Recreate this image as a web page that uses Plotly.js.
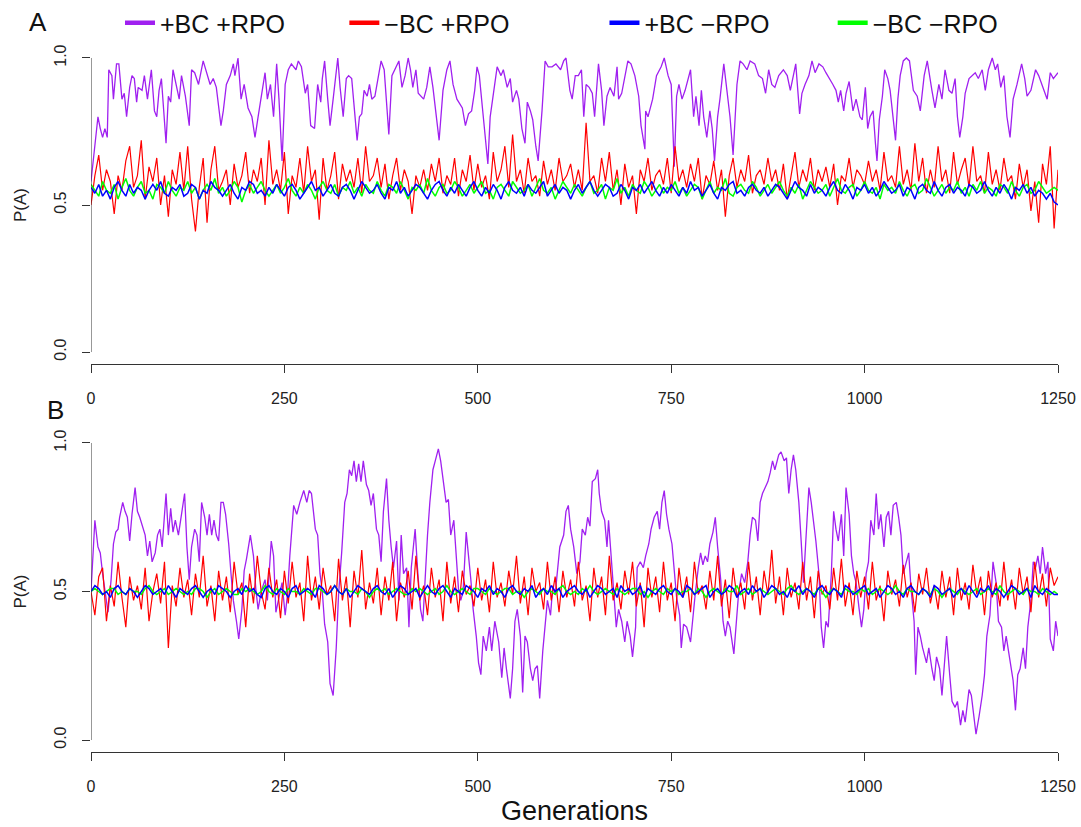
<!DOCTYPE html>
<html>
<head>
<meta charset="utf-8">
<script src="https://cdn.plot.ly/plotly-3.0.1.min.js"></script>
<style>html,body{margin:0;padding:0;background:#fff}#chart{width:1081px;height:827px}</style>
</head>
<body>
<div id="chart"></div>
<script>
// ---------- data ----------
var seriesNames = ['+BC +RPO', '\u2212BC +RPO', '+BC \u2212RPO', '\u2212BC \u2212RPO'];
var seriesColors = ['#A020F0', '#FF0000', '#0000FF', '#00FF00'];
var xTickVals = [0, 250, 500, 750, 1000, 1250];
var yTickVals = [0, 0.5, 1];
var yTickText = ['0.0', '0.5', '1.0'];

// Panel A, +BC +RPO (generation, P(A))
var genPurpleA = [0,2,9,12,15,18,21,23,27,29,33,36,40,43,46,50,53,56,59,61,66,69,73,78,82,85,88,91,97,100,103,106,111,114,117,122,127,130,134,139,145,150,154,158,162,168,171,175,180,184,186,190,194,198,203,208,212,216,221,225,228,232,236,240,243,247,251,255,259,265,268,272,277,280,284,289,293,297,299,302,306,309,313,319,322,326,330,333,337,340,344,347,350,353,357,360,363,367,375,379,385,389,393,398,402,406,410,413,416,420,423,430,434,438,442,446,450,455,460,464,468,473,480,484,488,492,496,499,502,506,511,513,516,520,525,530,533,538,542,545,550,553,557,561,564,568,571,575,578,583,587,591,596,601,607,611,614,619,622,626,630,634,637,640,644,648,651,656,660,663,667,671,676,680,682,686,690,694,698,703,708,711,716,717,720,726,731,737,741,746,750,754,757,760,764,768,775,779,782,786,789,792,796,800,803,806,810,813,818,822,826,830,835,839,843,848,852,858,863,868,872,876,880,884,889,895,900,904,908,911,916,919,923,928,932,936,941,946,950,955,959,963,966,969,973,976,980,985,989,994,997,1001,1004,1007,1011,1014,1016,1019,1023,1026,1030,1033,1037,1040,1043,1046,1050,1054,1058,1063,1068,1072,1077,1081,1087,1091,1096,1100,1104,1109,1113,1117,1120,1123,1127,1130,1135,1139,1143,1147,1152,1156,1160,1165,1169,1172,1176,1180,1184,1188,1192,1197,1203,1207,1210,1215,1221,1225,1229,1236,1240,1244,1250];
var pPurpleA = [0.58,0.63,0.80,0.76,0.73,0.76,0.73,0.96,0.94,0.86,0.98,0.98,0.86,0.88,0.80,0.90,0.94,0.93,0.85,0.90,0.89,0.94,0.86,0.96,0.82,0.80,0.89,0.93,0.71,0.87,0.85,0.96,0.89,0.86,0.94,0.87,0.77,0.96,0.95,0.91,0.99,0.94,0.91,0.93,0.90,0.77,0.82,0.91,0.94,0.98,0.94,1.00,0.86,0.91,0.83,0.80,0.73,0.80,0.89,0.95,0.86,0.91,0.80,0.98,0.86,0.65,0.91,0.96,0.98,0.96,0.99,0.97,0.88,0.91,0.77,0.76,0.91,0.85,0.93,0.99,0.86,0.77,0.86,1.00,0.90,0.80,0.93,0.94,0.93,0.83,0.72,0.80,0.81,0.89,0.87,0.91,0.86,0.87,0.99,0.96,0.74,0.94,0.96,0.99,0.90,0.94,1.00,0.96,0.90,0.96,0.88,0.86,0.90,0.97,0.90,0.81,0.72,0.89,0.96,0.99,0.91,0.86,0.83,0.77,0.81,0.82,0.89,0.97,0.94,0.83,0.69,0.64,0.80,0.88,0.97,0.94,0.96,0.90,0.93,0.85,0.89,0.86,0.76,0.71,0.85,0.82,0.79,0.70,0.65,0.82,0.99,0.97,0.97,0.98,0.96,0.99,1.00,0.89,0.86,0.94,0.94,0.96,0.80,0.91,0.90,0.88,0.80,0.98,0.89,0.77,0.87,0.90,0.87,0.97,0.86,0.88,0.94,0.99,0.98,0.94,0.87,0.77,0.69,0.82,0.80,0.86,0.94,0.97,1.00,0.94,0.91,0.63,0.87,0.91,0.86,0.89,0.96,0.80,0.87,0.77,0.89,0.80,0.73,0.82,0.76,0.65,0.80,0.86,0.98,0.89,0.80,0.67,0.91,0.99,0.98,0.96,0.99,0.98,0.94,0.93,0.88,0.96,0.91,0.90,0.94,0.96,0.94,0.89,0.94,0.98,0.81,0.88,0.91,0.94,0.99,0.95,0.98,0.97,0.95,0.93,0.91,0.89,0.85,0.89,0.82,0.88,0.92,0.82,0.86,0.80,0.79,0.90,0.76,0.80,0.82,0.71,0.65,0.79,0.87,0.96,0.93,0.89,0.80,0.72,0.86,0.94,0.99,1.00,0.99,0.89,0.87,0.82,0.94,0.99,0.89,0.83,0.91,0.86,0.96,0.89,0.88,0.93,0.80,0.73,0.80,0.88,0.93,0.94,0.95,0.93,0.96,0.89,0.96,1.00,0.96,0.98,0.90,0.94,0.80,0.73,0.86,0.91,0.98,0.93,0.87,0.89,0.96,0.94,0.91,0.86,0.95,0.93,0.95];

// Panel A, other series, one value every 5 generations from 0 to 1250
var pRedA = [
0.50,0.60,0.67,0.55,0.62,0.58,0.47,0.60,0.55,0.65,0.70,0.56,0.60,0.72,0.52,0.63,0.58,0.66,0.50,0.60,0.46,0.62,0.57,0.68,0.55,
0.70,0.52,0.41,0.56,0.66,0.44,0.62,0.70,0.55,0.58,0.62,0.50,0.64,0.56,0.60,0.68,0.54,0.62,0.58,0.66,0.50,0.72,0.57,0.62,0.55,
0.68,0.47,0.60,0.56,0.66,0.54,0.70,0.58,0.62,0.45,0.66,0.55,0.60,0.68,0.52,0.64,0.58,0.62,0.56,0.66,0.54,0.70,0.58,0.60,0.66,
0.56,0.64,0.52,0.60,0.66,0.55,0.62,0.58,0.47,0.60,0.56,0.62,0.55,0.64,0.58,0.66,0.54,0.60,0.57,0.66,0.53,0.62,0.58,0.67,0.55,
0.64,0.56,0.60,0.52,0.68,0.58,0.62,0.70,0.56,0.74,0.58,0.62,0.54,0.66,0.58,0.60,0.53,0.65,0.57,0.62,0.55,0.66,0.58,0.60,0.64,
0.56,0.62,0.55,0.78,0.58,0.60,0.54,0.66,0.58,0.68,0.55,0.62,0.50,0.64,0.56,0.60,0.47,0.62,0.58,0.66,0.55,0.60,0.62,0.57,0.66,
0.54,0.70,0.58,0.62,0.56,0.64,0.58,0.66,0.52,0.60,0.57,0.65,0.55,0.62,0.46,0.60,0.66,0.56,0.62,0.58,0.67,0.54,0.60,0.62,0.57,
0.66,0.58,0.62,0.55,0.64,0.52,0.60,0.68,0.56,0.62,0.58,0.66,0.55,0.62,0.58,0.63,0.56,0.64,0.50,0.60,0.58,0.66,0.56,0.62,0.60,
0.57,0.65,0.58,0.62,0.55,0.68,0.58,0.60,0.56,0.70,0.57,0.62,0.55,0.71,0.58,0.66,0.54,0.62,0.56,0.70,0.58,0.62,0.54,0.68,0.57,
0.62,0.66,0.56,0.70,0.58,0.60,0.54,0.68,0.57,0.62,0.55,0.66,0.58,0.60,0.52,0.64,0.56,0.62,0.48,0.58,0.44,0.64,0.57,0.70,0.42,
0.62];
var pBlueA = [
0.56,0.54,0.57,0.53,0.55,0.52,0.56,0.58,0.55,0.53,0.57,0.54,0.56,0.55,0.52,0.55,0.57,0.55,0.58,0.54,0.53,0.56,0.55,0.57,0.53,
0.54,0.57,0.56,0.52,0.55,0.54,0.58,0.56,0.55,0.53,0.55,0.57,0.54,0.52,0.56,0.55,0.58,0.57,0.54,0.55,0.53,0.56,0.54,0.57,0.55,
0.53,0.56,0.57,0.55,0.52,0.54,0.56,0.58,0.55,0.56,0.53,0.55,0.57,0.54,0.53,0.56,0.57,0.55,0.52,0.55,0.58,0.56,0.54,0.55,0.57,
0.54,0.52,0.56,0.55,0.58,0.54,0.56,0.53,0.55,0.57,0.56,0.54,0.52,0.55,0.57,0.58,0.55,0.53,0.56,0.54,0.57,0.55,0.53,0.56,0.58,
0.55,0.53,0.56,0.54,0.57,0.55,0.52,0.56,0.58,0.55,0.54,0.56,0.53,0.57,0.55,0.54,0.56,0.58,0.53,0.55,0.57,0.54,0.56,0.55,0.52,
0.55,0.57,0.54,0.56,0.58,0.55,0.53,0.55,0.57,0.56,0.53,0.54,0.57,0.55,0.52,0.56,0.55,0.57,0.54,0.56,0.58,0.55,0.53,0.56,0.54,
0.57,0.55,0.53,0.56,0.54,0.58,0.55,0.56,0.53,0.55,0.57,0.54,0.52,0.56,0.55,0.57,0.58,0.54,0.55,0.53,0.56,0.57,0.55,0.54,0.56,
0.53,0.55,0.57,0.56,0.54,0.52,0.55,0.58,0.56,0.55,0.53,0.57,0.54,0.56,0.55,0.53,0.56,0.58,0.55,0.54,0.57,0.55,0.52,0.56,0.55,
0.57,0.54,0.56,0.53,0.55,0.58,0.56,0.54,0.55,0.57,0.53,0.56,0.55,0.52,0.56,0.57,0.55,0.54,0.58,0.55,0.53,0.56,0.57,0.54,0.56,
0.55,0.53,0.57,0.56,0.54,0.55,0.58,0.55,0.53,0.56,0.54,0.57,0.55,0.52,0.56,0.55,0.57,0.54,0.56,0.53,0.55,0.54,0.52,0.54,0.51,
0.50];
var pGreenA = [
0.57,0.55,0.53,0.58,0.55,0.54,0.57,0.52,0.56,0.59,0.55,0.53,0.56,0.58,0.54,0.55,0.52,0.57,0.56,0.54,0.58,0.55,0.53,0.56,0.55,
0.58,0.54,0.56,0.52,0.55,0.57,0.55,0.59,0.54,0.56,0.53,0.55,0.58,0.56,0.51,0.55,0.57,0.54,0.56,0.58,0.55,0.53,0.55,0.57,0.54,
0.56,0.59,0.55,0.53,0.56,0.54,0.57,0.55,0.52,0.56,0.58,0.55,0.54,0.57,0.53,0.56,0.55,0.58,0.54,0.56,0.53,0.57,0.55,0.54,0.58,
0.55,0.53,0.57,0.56,0.54,0.58,0.55,0.52,0.56,0.55,0.57,0.54,0.59,0.55,0.53,0.56,0.57,0.54,0.55,0.58,0.56,0.53,0.55,0.57,0.54,
0.56,0.58,0.54,0.55,0.52,0.56,0.57,0.55,0.53,0.58,0.56,0.54,0.55,0.57,0.53,0.56,0.59,0.55,0.54,0.56,0.52,0.55,0.58,0.56,0.54,
0.57,0.55,0.53,0.56,0.58,0.54,0.55,0.57,0.52,0.56,0.55,0.59,0.54,0.56,0.53,0.57,0.55,0.54,0.58,0.56,0.53,0.55,0.57,0.54,0.56,
0.55,0.58,0.54,0.56,0.53,0.55,0.57,0.56,0.52,0.55,0.58,0.54,0.56,0.55,0.59,0.54,0.53,0.56,0.57,0.55,0.54,0.58,0.56,0.53,0.55,
0.57,0.54,0.56,0.58,0.55,0.53,0.56,0.54,0.57,0.52,0.55,0.58,0.56,0.54,0.55,0.57,0.53,0.56,0.59,0.55,0.54,0.56,0.57,0.53,0.55,
0.58,0.55,0.54,0.56,0.52,0.57,0.55,0.56,0.54,0.58,0.55,0.53,0.56,0.57,0.54,0.55,0.59,0.56,0.53,0.55,0.57,0.54,0.56,0.55,0.58,
0.54,0.56,0.53,0.57,0.55,0.58,0.54,0.56,0.55,0.53,0.57,0.56,0.54,0.58,0.55,0.53,0.56,0.57,0.54,0.55,0.58,0.56,0.54,0.55,0.56,
0.55];

// Panel B, +BC +RPO (generation, P(A))
var genPurpleB = [0,5,9,12,15,18,22,26,29,32,35,37,41,44,47,50,53,57,60,63,66,70,73,76,79,83,86,89,92,97,100,103,106,109,113,117,121,124,127,130,134,137,140,143,147,150,153,156,159,162,165,168,171,174,178,181,184,188,191,195,198,201,206,210,213,216,220,225,228,233,236,239,242,247,251,254,257,262,266,270,275,279,282,285,290,293,296,299,302,306,309,313,317,320,324,328,331,334,337,340,343,346,349,352,356,359,362,365,369,372,375,378,382,385,388,391,395,398,401,404,408,411,414,417,419,422,426,429,432,435,438,442,445,449,452,456,459,462,465,469,472,475,478,481,485,488,491,494,498,501,504,507,511,515,518,522,527,531,534,537,542,545,548,551,555,558,561,564,568,571,574,577,580,584,587,590,594,597,600,603,606,611,614,617,620,624,628,632,635,639,642,645,648,652,655,657,660,664,667,669,673,676,679,682,686,690,693,697,700,704,706,710,714,717,721,724,728,732,735,738,741,744,747,751,754,757,761,763,766,770,775,778,781,785,788,791,794,797,800,804,807,810,814,817,820,823,826,831,834,837,841,845,849,852,855,859,862,865,868,871,875,878,881,884,889,892,896,899,902,905,908,911,915,918,921,924,928,931,934,937,941,944,947,950,953,957,960,963,966,970,973,976,980,983,986,989,993,996,999,1002,1005,1008,1012,1015,1018,1021,1025,1028,1031,1034,1037,1041,1044,1047,1050,1054,1057,1060,1064,1066,1069,1072,1075,1080,1083,1087,1090,1093,1097,1100,1103,1106,1110,1113,1117,1120,1124,1127,1130,1135,1138,1141,1144,1148,1152,1155,1158,1162,1166,1170,1173,1177,1180,1183,1188,1192,1195,1198,1201,1205,1208,1211,1215,1218,1221,1224,1227,1230,1234,1237,1240,1244,1247,1250];
var pPurpleB = [0.50,0.74,0.65,0.63,0.56,0.51,0.43,0.54,0.66,0.70,0.71,0.75,0.80,0.77,0.75,0.67,0.76,0.85,0.77,0.75,0.72,0.69,0.62,0.67,0.60,0.63,0.69,0.71,0.65,0.83,0.69,0.78,0.70,0.74,0.69,0.76,0.83,0.65,0.54,0.65,0.71,0.69,0.60,0.80,0.75,0.69,0.76,0.69,0.74,0.69,0.67,0.80,0.80,0.76,0.66,0.56,0.47,0.40,0.34,0.44,0.57,0.61,0.69,0.62,0.51,0.44,0.50,0.54,0.47,0.67,0.62,0.43,0.47,0.53,0.42,0.49,0.62,0.79,0.76,0.80,0.84,0.80,0.84,0.83,0.71,0.69,0.56,0.50,0.39,0.33,0.19,0.15,0.31,0.49,0.63,0.80,0.83,0.91,0.89,0.94,0.87,0.93,0.87,0.94,0.86,0.84,0.79,0.83,0.71,0.69,0.60,0.77,0.88,0.74,0.65,0.58,0.67,0.47,0.69,0.56,0.58,0.38,0.58,0.66,0.71,0.58,0.44,0.40,0.56,0.69,0.80,0.91,0.94,0.98,0.94,0.86,0.80,0.81,0.69,0.74,0.63,0.51,0.47,0.50,0.70,0.63,0.54,0.44,0.35,0.26,0.22,0.35,0.30,0.38,0.30,0.40,0.33,0.21,0.31,0.24,0.14,0.24,0.40,0.44,0.35,0.16,0.35,0.33,0.24,0.20,0.24,0.25,0.14,0.30,0.40,0.47,0.42,0.52,0.49,0.56,0.65,0.69,0.77,0.79,0.71,0.65,0.56,0.60,0.71,0.69,0.75,0.72,0.87,0.88,0.91,0.83,0.77,0.74,0.65,0.74,0.60,0.49,0.38,0.44,0.40,0.33,0.40,0.35,0.28,0.38,0.58,0.60,0.58,0.62,0.66,0.71,0.75,0.77,0.71,0.80,0.84,0.76,0.71,0.66,0.56,0.48,0.42,0.31,0.39,0.38,0.33,0.42,0.49,0.58,0.63,0.59,0.62,0.60,0.66,0.70,0.75,0.65,0.54,0.40,0.35,0.40,0.38,0.29,0.39,0.49,0.56,0.53,0.60,0.69,0.75,0.74,0.67,0.80,0.83,0.85,0.87,0.90,0.94,0.91,0.96,0.97,0.94,0.95,0.83,0.91,0.96,0.91,0.80,0.67,0.53,0.67,0.85,0.80,0.74,0.67,0.56,0.38,0.31,0.40,0.38,0.56,0.77,0.71,0.67,0.76,0.62,0.85,0.76,0.62,0.56,0.53,0.44,0.38,0.44,0.56,0.60,0.74,0.69,0.83,0.71,0.76,0.65,0.75,0.77,0.69,0.79,0.80,0.75,0.69,0.56,0.60,0.63,0.51,0.40,0.22,0.38,0.35,0.31,0.26,0.31,0.24,0.20,0.28,0.24,0.15,0.24,0.35,0.22,0.13,0.11,0.13,0.05,0.10,0.06,0.17,0.15,0.08,0.02,0.08,0.15,0.22,0.35,0.42,0.60,0.53,0.40,0.38,0.30,0.35,0.26,0.20,0.10,0.22,0.24,0.31,0.24,0.38,0.47,0.60,0.58,0.62,0.56,0.65,0.56,0.60,0.34,0.30,0.40,0.35];

// Panel B, other series, one value every 5 generations from 0 to 1250
var pRedB = [
0.50,0.42,0.55,0.58,0.40,0.52,0.45,0.60,0.48,0.38,0.55,0.47,0.52,0.44,0.58,0.40,0.50,0.56,0.46,0.60,0.31,0.52,0.45,0.58,0.48,
0.54,0.42,0.56,0.48,0.62,0.45,0.52,0.40,0.57,0.47,0.55,0.43,0.60,0.49,0.53,0.38,0.56,0.46,0.62,0.50,0.44,0.58,0.48,0.54,0.41,
0.57,0.46,0.60,0.48,0.53,0.40,0.62,0.47,0.55,0.44,0.58,0.49,0.52,0.40,0.61,0.47,0.55,0.38,0.57,0.48,0.64,0.44,0.53,0.46,0.58,
0.42,0.55,0.47,0.60,0.40,0.53,0.48,0.57,0.44,0.62,0.47,0.52,0.42,0.58,0.48,0.54,0.40,0.60,0.46,0.55,0.43,0.57,0.49,0.52,0.45,
0.58,0.47,0.54,0.43,0.60,0.48,0.53,0.45,0.57,0.49,0.62,0.46,0.55,0.42,0.58,0.50,0.53,0.44,0.60,0.47,0.55,0.43,0.57,0.48,0.54,
0.45,0.60,0.47,0.52,0.40,0.58,0.48,0.55,0.42,0.62,0.47,0.53,0.44,0.57,0.49,0.60,0.45,0.53,0.38,0.58,0.48,0.55,0.43,0.60,0.47,
0.53,0.40,0.58,0.48,0.55,0.43,0.60,0.49,0.52,0.44,0.57,0.47,0.62,0.45,0.54,0.41,0.58,0.48,0.53,0.44,0.60,0.47,0.55,0.42,0.57,
0.49,0.64,0.46,0.55,0.42,0.58,0.48,0.53,0.44,0.60,0.47,0.55,0.41,0.57,0.49,0.52,0.44,0.58,0.47,0.61,0.45,0.53,0.42,0.57,0.48,
0.55,0.44,0.60,0.47,0.52,0.40,0.57,0.49,0.54,0.45,0.59,0.48,0.53,0.43,0.56,0.49,0.58,0.46,0.52,0.44,0.57,0.48,0.55,0.42,0.58,
0.47,0.53,0.44,0.59,0.49,0.55,0.42,0.57,0.48,0.53,0.45,0.60,0.47,0.54,0.44,0.58,0.49,0.55,0.43,0.60,0.48,0.56,0.45,0.58,0.52,
0.55];
var pBlueB = [
0.50,0.52,0.51,0.49,0.50,0.48,0.51,0.52,0.50,0.49,0.51,0.50,0.48,0.50,0.52,0.51,0.49,0.50,0.51,0.49,0.52,0.50,0.48,0.51,0.50,
0.49,0.51,0.52,0.50,0.48,0.50,0.51,0.49,0.52,0.51,0.50,0.48,0.50,0.51,0.49,0.52,0.50,0.51,0.49,0.48,0.51,0.52,0.50,0.49,0.51,
0.50,0.48,0.51,0.52,0.49,0.50,0.51,0.50,0.48,0.52,0.51,0.49,0.50,0.52,0.50,0.49,0.51,0.48,0.50,0.52,0.51,0.50,0.49,0.51,0.52,
0.50,0.49,0.51,0.48,0.50,0.52,0.51,0.49,0.50,0.51,0.48,0.50,0.52,0.50,0.49,0.51,0.52,0.50,0.48,0.51,0.50,0.49,0.52,0.51,0.50,
0.48,0.51,0.50,0.52,0.49,0.51,0.50,0.48,0.51,0.52,0.50,0.49,0.51,0.50,0.52,0.48,0.50,0.51,0.49,0.52,0.50,0.51,0.48,0.50,0.51,
0.52,0.50,0.49,0.51,0.48,0.50,0.52,0.51,0.49,0.50,0.51,0.48,0.52,0.50,0.51,0.49,0.50,0.52,0.48,0.51,0.50,0.49,0.51,0.52,0.50,
0.49,0.51,0.50,0.48,0.52,0.51,0.49,0.50,0.51,0.52,0.48,0.50,0.51,0.49,0.50,0.52,0.51,0.48,0.50,0.51,0.49,0.52,0.50,0.51,0.48,
0.50,0.52,0.51,0.49,0.50,0.48,0.51,0.50,0.52,0.49,0.51,0.50,0.48,0.51,0.52,0.50,0.49,0.51,0.50,0.48,0.52,0.51,0.49,0.50,0.51,
0.52,0.49,0.50,0.51,0.48,0.50,0.52,0.51,0.49,0.50,0.48,0.51,0.52,0.50,0.49,0.51,0.50,0.48,0.52,0.51,0.49,0.50,0.51,0.48,0.50,
0.51,0.49,0.52,0.50,0.48,0.51,0.50,0.52,0.49,0.51,0.50,0.48,0.50,0.52,0.51,0.49,0.50,0.51,0.48,0.52,0.50,0.49,0.51,0.50,0.49,
0.49];
var pGreenB = [
0.50,0.51,0.50,0.49,0.50,0.51,0.51,0.49,0.50,0.49,0.51,0.50,0.50,0.49,0.51,0.52,0.50,0.49,0.50,0.51,0.49,0.50,0.51,0.50,0.49,
0.50,0.49,0.51,0.51,0.50,0.48,0.50,0.51,0.49,0.50,0.51,0.50,0.49,0.49,0.51,0.50,0.51,0.50,0.49,0.50,0.52,0.50,0.49,0.51,0.50,
0.49,0.51,0.50,0.50,0.49,0.51,0.50,0.49,0.51,0.51,0.50,0.49,0.50,0.52,0.50,0.49,0.51,0.50,0.50,0.49,0.51,0.50,0.48,0.50,0.51,
0.50,0.51,0.49,0.50,0.51,0.50,0.49,0.49,0.51,0.50,0.51,0.50,0.49,0.50,0.51,0.49,0.50,0.52,0.50,0.49,0.50,0.51,0.50,0.49,0.51,
0.51,0.50,0.49,0.51,0.50,0.49,0.50,0.51,0.51,0.49,0.50,0.50,0.48,0.50,0.51,0.50,0.49,0.51,0.50,0.50,0.49,0.51,0.52,0.50,0.49,
0.50,0.49,0.51,0.50,0.52,0.50,0.49,0.50,0.51,0.50,0.49,0.51,0.50,0.49,0.50,0.51,0.51,0.49,0.50,0.48,0.50,0.51,0.50,0.49,0.51,
0.50,0.51,0.49,0.50,0.50,0.51,0.49,0.51,0.50,0.48,0.50,0.51,0.50,0.49,0.51,0.50,0.50,0.52,0.49,0.50,0.51,0.49,0.50,0.51,0.50,
0.49,0.50,0.51,0.50,0.49,0.51,0.52,0.50,0.49,0.50,0.51,0.50,0.49,0.51,0.50,0.48,0.50,0.51,0.50,0.49,0.51,0.50,0.50,0.49,0.51,
0.50,0.51,0.49,0.50,0.51,0.50,0.49,0.50,0.52,0.50,0.49,0.51,0.50,0.50,0.49,0.51,0.50,0.49,0.51,0.50,0.48,0.50,0.51,0.50,0.49,
0.51,0.50,0.49,0.50,0.51,0.49,0.50,0.51,0.50,0.49,0.52,0.50,0.49,0.50,0.51,0.50,0.49,0.51,0.50,0.50,0.49,0.51,0.50,0.49,0.50,
0.49];

// ---------- figure ----------
var FONT = '"Liberation Sans", Arial, Helvetica, sans-serif';
var AX = '#333333';

function lineTrace(x, y, color, xa, ya, group, w) {
  return {type: 'scatter', mode: 'lines', x: x, y: y, xaxis: xa, yaxis: ya,
          line: {color: color, width: w}, showlegend: false, legendgroup: group, hoverinfo: 'x+y'};
}
function stepTrace(y, color, xa, ya, group, w) {
  return {type: 'scatter', mode: 'lines', x0: 0, dx: 5, y: y, xaxis: xa, yaxis: ya,
          line: {color: color, width: w}, showlegend: false, legendgroup: group, hoverinfo: 'x+y'};
}

var data = [
  // panel A (drawing order: purple, red, green, blue)
  lineTrace(genPurpleA, pPurpleA, seriesColors[0], 'x', 'y', 'g0', 1.3),
  stepTrace(pRedA, seriesColors[1], 'x', 'y', 'g1', 1.2),
  stepTrace(pGreenA, seriesColors[3], 'x', 'y', 'g3', 1.5),
  stepTrace(pBlueA, seriesColors[2], 'x', 'y', 'g2', 1.5),
  // panel B
  lineTrace(genPurpleB, pPurpleB, seriesColors[0], 'x2', 'y2', 'g0', 1.3),
  stepTrace(pRedB, seriesColors[1], 'x2', 'y2', 'g1', 1.2),
  stepTrace(pGreenB, seriesColors[3], 'x2', 'y2', 'g3', 1.5),
  stepTrace(pBlueB, seriesColors[2], 'x2', 'y2', 'g2', 1.5)
];
// legend entries with thick sample lines, one small legend per entry
var legendIds = ['legend', 'legend2', 'legend3', 'legend4'];
for (var i = 0; i < seriesNames.length; i++) {
  data.push({type: 'scatter', mode: 'lines', x: [null], y: [null], xaxis: 'x', yaxis: 'y',
             name: seriesNames[i], legendgroup: 'g' + i, legend: legendIds[i],
             line: {color: seriesColors[i], width: 4.5}, showlegend: true, hoverinfo: 'skip'});
}

function xAxis(anchor, withTitle) {
  var ax = {
    anchor: anchor, range: [0, 1250], tickvals: xTickVals, ticktext: xTickVals.map(String),
    showline: true, linecolor: AX, linewidth: 1, ticks: 'outside', ticklen: 8, tickwidth: 1, tickcolor: AX,
    showgrid: false, zeroline: false, tickfont: {family: FONT, size: 16, color: '#222'},
    ticklabelstandoff: 12
  };
  if (withTitle) ax.title = {text: 'Generations', font: {family: FONT, size: 27, color: '#111'}, standoff: 6};
  return ax;
}
function yAxis(anchor, domain) {
  return {
    anchor: anchor, domain: domain, range: [-0.04, 1.04], tickvals: yTickVals, ticktext: yTickText,
    tickangle: -90, showline: false, ticks: 'outside', ticklen: 8, tickwidth: 1, tickcolor: AX,
    showgrid: false, zeroline: false, tickfont: {family: FONT, size: 16, color: '#222'},
    ticklabelstandoff: 10,
    title: {text: 'P(A)', font: {family: FONT, size: 17, color: '#222'}, standoff: 20}
  };
}
function legendBox(xPaper) {
  return {orientation: 'h', x: xPaper, xanchor: 'left', y: 1.0, yanchor: 'top',
          font: {family: FONT, size: 25, color: '#111'}, bgcolor: 'rgba(0,0,0,0)', borderwidth: 0};
}

var layout = {
  width: 1081, height: 827,
  margin: {l: 91, r: 23, t: 0, b: 0},
  paper_bgcolor: '#ffffff', plot_bgcolor: '#ffffff',
  font: {family: FONT, color: '#111'},
  showlegend: true,
  legend: legendBox(0.030),
  legend2: legendBox(0.262),
  legend3: legendBox(0.531),
  legend4: legendBox(0.767),
  xaxis: xAxis('y', false),
  yaxis: yAxis('x', [0.5601, 0.9441]),
  xaxis2: xAxis('y2', true),
  yaxis2: yAxis('x2', [0.0908, 0.4787]),
  shapes: [
    {type: 'line', xref: 'x', yref: 'y', x0: 0, x1: 0, y0: 0, y1: 1, line: {color: AX, width: 1}},
    {type: 'line', xref: 'x2', yref: 'y2', x0: 0, x1: 0, y0: 0, y1: 1, line: {color: AX, width: 1}}
  ],
  annotations: [
    {text: 'A', xref: 'paper', yref: 'paper', x: -0.055, y: 0.973, showarrow: false,
     font: {family: FONT, size: 26, color: '#111'}, xanchor: 'center', yanchor: 'middle'},
    {text: 'B', xref: 'paper', yref: 'paper', x: -0.037, y: 0.504, showarrow: false,
     font: {family: FONT, size: 26, color: '#111'}, xanchor: 'center', yanchor: 'middle'}
  ]
};

Plotly.newPlot('chart', data, layout, {displayModeBar: false, responsive: false});
</script>
</body>
</html>
